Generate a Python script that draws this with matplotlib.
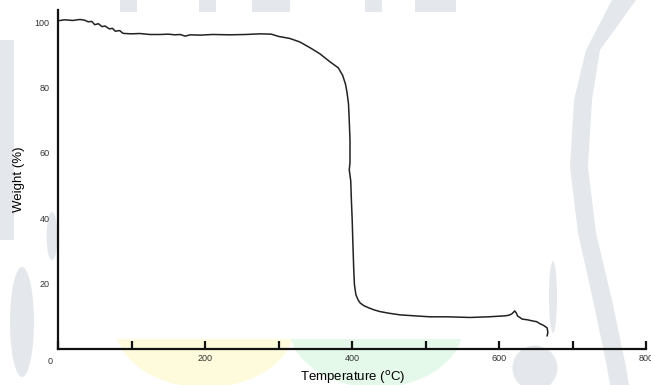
import matplotlib
matplotlib.use("Agg")
import matplotlib.pyplot as plt
import matplotlib.transforms as mtransforms
from matplotlib.patches import Polygon, Ellipse, Rectangle

plt.rcParams["font.family"] = ["Liberation Sans", "DejaVu Sans"]

# TGA curve
temperature = [0, 9, 20, 30, 36, 41, 46, 50, 55, 60, 64, 70, 74, 78, 84, 88, 91,
               100, 111, 125, 139, 150, 159, 166, 173, 180, 193, 210, 234, 255,
               275, 290, 300, 315, 329, 343, 356, 370, 381, 387, 391, 393, 395,
               396, 397, 397, 396, 398, 399, 400, 401, 402, 403, 405, 408, 411,
               416, 422, 430, 438, 450, 465, 485, 506, 530, 560, 585, 608, 613,
               617, 621, 623, 625, 628, 631, 638, 646, 651, 655, 660, 665, 666,
               665]
weight = [100.5, 100.8, 100.6, 100.9, 100.7, 100.2, 100.3, 99.3, 99.6, 98.7, 98.9,
          98.0, 98.2, 97.3, 97.5, 96.7, 96.6, 96.5, 96.6, 96.3, 96.3, 96.4, 96.2,
          96.3, 95.8, 96.2, 96.1, 96.3, 96.2, 96.3, 96.5, 96.4, 95.7, 95.1, 94.0,
          92.2, 90.4, 87.9, 86.1, 83.8, 81.0, 78.5, 75.0, 70.0, 64.0, 57.0, 54.8,
          51.5, 45.0, 39.5, 32.0, 25.0, 19.8, 16.6, 15.0, 14.0, 13.2, 12.6, 11.9,
          11.4, 10.9, 10.4, 10.1, 9.8, 9.8, 9.6, 9.8, 10.1, 10.3, 10.7, 11.6,
          11.0, 10.0, 9.6, 9.1, 8.9, 8.5, 8.3, 7.7, 7.2, 6.4, 5.0, 4.0]

x_major = [0, 200, 400, 600, 800]
x_major_labels = ["", "200", "400", "600", "800"]
x_minor = [100, 300, 500, 700]
y_ticks = [20, 40, 60, 80, 100]

W, H = 651, 385
fig = plt.figure(figsize=(W / 100, H / 100), dpi=100)

# pale page watermark behind the chart (figure pixels, origin top-left)
def fx(x):
    return x / W

def fy(y):
    return 1 - y / H

GREY = "#e4e8ec"
tf = fig.transFigure
wm = []
crescent = [(636, 0), (600, 50), (592, 100), (588, 167), (596, 233), (612, 300),
            (626, 367), (629, 385), (610, 385), (607, 367), (593, 300), (578, 233),
            (570, 167), (574, 100), (586, 50), (612, 0)]
wm.append(Polygon([(fx(a), fy(b)) for a, b in crescent], closed=True, fc=GREY))
wm.append(Rectangle((0, fy(240)), fx(14), (240 - 40) / H, fc=GREY))
for cx, cy, w, h, c in [(553, 297, 8, 72, GREY), (535, 368, 45, 45, GREY),
                        (52, 236, 11, 48, GREY), (22, 322, 24, 110, GREY),
                        (205, 325, 180, 125, "#fdfbdc"), (376, 325, 175, 125, "#e4f9ea")]:
    wm.append(Ellipse((fx(cx), fy(cy)), w / W, h / H, fc=c))
for x0, x1 in [(120, 137), (199, 216), (252, 290), (365, 382), (415, 456)]:
    wm.append(Rectangle((fx(x0), fy(12)), (x1 - x0) / W, 12 / H, fc=GREY))
for p in wm:
    p.set_transform(tf)
    p.set_edgecolor("none")
    p.set_zorder(-3)
    fig.patches.append(p)
card = Rectangle((fx(58), fy(339)), (548 - 58) / W, (339 - 12) / H, fc="white",
                 ec="none", transform=tf, zorder=-2)
fig.patches.append(card)

ax = fig.add_axes([0.089, 0.094, 0.904, 0.880])
ax.patch.set_alpha(0)

ax.plot(temperature, weight, color="#222222", lw=1.1)

ax.set_xlim(0, 800)
ax.set_ylim(0, 103.8)
for side in ("top", "right"):
    ax.spines[side].set_visible(False)
for side in ("left", "bottom"):
    ax.spines[side].set_linewidth(1.6)
    ax.spines[side].set_color("#111111")

ax.set_xticks(x_major)
ax.set_xticklabels(x_major_labels)
ax.set_xticks(x_minor, minor=True)
ax.tick_params(axis="x", which="both", direction="in", length=6, width=1.6,
               labelsize=6.5, pad=4, colors="#111111", labelcolor="#333333")
ax.set_yticks(y_ticks)
ax.tick_params(axis="y", length=0, labelsize=6.5, pad=6, labelcolor="#333333")

# the origin label sits a little left of the corner
off = mtransforms.ScaledTranslation(-8 / 100, 0, fig.dpi_scale_trans)
ax.text(0, -0.025, "0", transform=ax.get_xaxis_transform() + off,
        ha="center", va="top", fontsize=6.5, color="#333333")

ax.set_xlabel(r"Temperature ($^{\mathrm{o}}$C)", fontsize=9.5, labelpad=4)
ax.set_ylabel("Weight (%)", fontsize=9.5, labelpad=7)

fig.savefig("out.png", dpi=100)
